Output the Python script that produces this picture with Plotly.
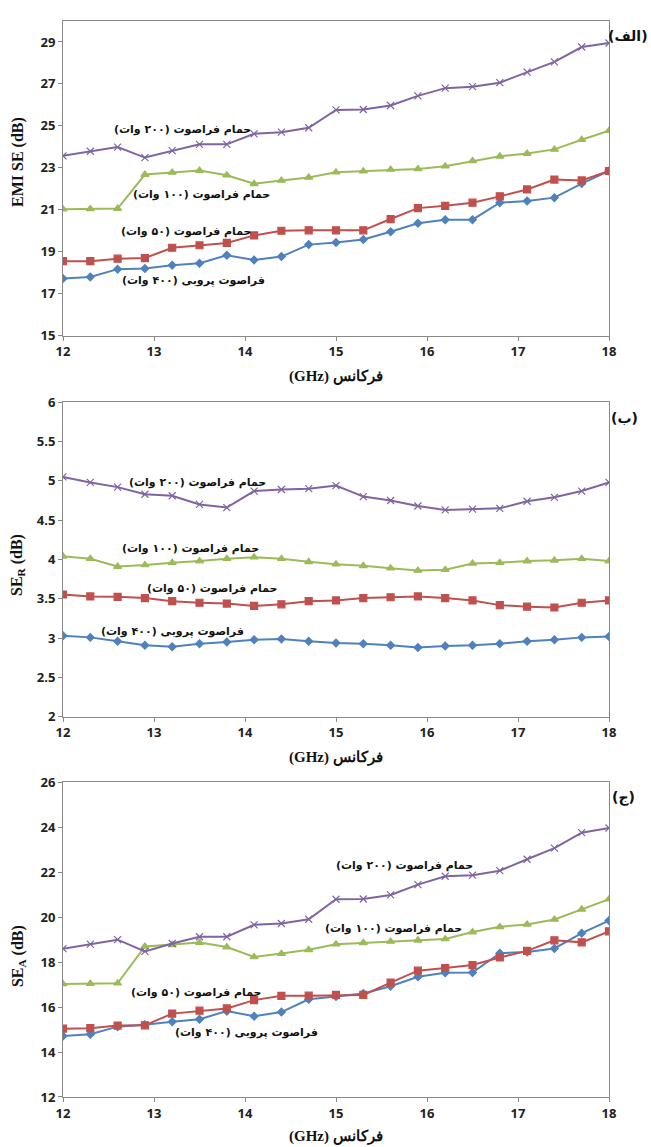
import plotly.graph_objects as go

freq = [12.0, 12.3, 12.6, 12.9, 13.2, 13.5, 13.8, 14.1, 14.4, 14.7, 15.0,
        15.3, 15.6, 15.9, 16.2, 16.5, 16.8, 17.1, 17.4, 17.7, 18.0]

# Panel (الف): EMI SE
emi_probe400 = [17.72, 17.80, 18.17, 18.20, 18.36, 18.45, 18.83, 18.61, 18.77, 19.34, 19.44,
                19.58, 19.95, 20.36, 20.52, 20.53, 21.34, 21.42, 21.58, 22.25, 22.85]
emi_bath50 = [18.55, 18.55, 18.67, 18.70, 19.19, 19.31, 19.42, 19.78, 20.00, 20.02, 20.02,
              20.02, 20.56, 21.08, 21.19, 21.34, 21.64, 21.97, 22.44, 22.40, 22.85]
emi_bath100 = [21.03, 21.04, 21.06, 22.68, 22.78, 22.87, 22.65, 22.24, 22.40, 22.54, 22.79,
               22.84, 22.92, 22.95, 23.08, 23.33, 23.55, 23.68, 23.88, 24.34, 24.77]
emi_bath200 = [23.57, 23.79, 23.99, 23.49, 23.82, 24.12, 24.12, 24.62, 24.70, 24.91, 25.76,
               25.78, 25.97, 26.43, 26.80, 26.87, 27.06, 27.56, 28.05, 28.76, 28.95]

# Panel (ب): SE_R
ser_probe400 = [3.03, 3.01, 2.96, 2.91, 2.89, 2.93, 2.95, 2.98, 2.99, 2.96, 2.94,
                2.93, 2.91, 2.88, 2.90, 2.91, 2.93, 2.96, 2.98, 3.01, 3.02]
ser_bath50 = [3.555, 3.53, 3.525, 3.51, 3.47, 3.45, 3.44, 3.41, 3.43, 3.47, 3.48,
              3.51, 3.52, 3.53, 3.51, 3.48, 3.42, 3.40, 3.39, 3.45, 3.48]
ser_bath100 = [4.04, 4.01, 3.91, 3.93, 3.96, 3.98, 4.01, 4.03, 4.01, 3.97, 3.94,
               3.92, 3.89, 3.86, 3.87, 3.95, 3.96, 3.98, 3.99, 4.01, 3.98]
ser_bath200 = [5.05, 4.98, 4.92, 4.83, 4.81, 4.70, 4.66, 4.87, 4.89, 4.90, 4.94,
               4.80, 4.75, 4.68, 4.63, 4.64, 4.65, 4.74, 4.79, 4.87, 4.98]

# Panel (ج): SE_A
sea_probe400 = [14.71, 14.79, 15.13, 15.21, 15.35, 15.46, 15.82, 15.59, 15.78, 16.35, 16.47,
                16.60, 16.93, 17.35, 17.53, 17.54, 18.40, 18.45, 18.61, 19.29, 19.85]
sea_bath50 = [15.04, 15.06, 15.18, 15.19, 15.71, 15.84, 15.94, 16.31, 16.50, 16.51, 16.54,
              16.54, 17.09, 17.62, 17.74, 17.87, 18.21, 18.50, 18.97, 18.88, 19.37]
sea_bath100 = [17.03, 17.04, 17.06, 18.70, 18.77, 18.87, 18.67, 18.23, 18.38, 18.55, 18.80,
               18.86, 18.92, 18.97, 19.03, 19.34, 19.57, 19.68, 19.90, 20.35, 20.80]
sea_bath200 = [18.60, 18.80, 19.00, 18.48, 18.83, 19.13, 19.13, 19.66, 19.72, 19.91, 20.80,
               20.81, 20.99, 21.45, 21.82, 21.87, 22.07, 22.58, 23.07, 23.76, 23.97]

x_ticks = [12, 13, 14, 15, 16, 17, 18]
y1_ticks = [15, 17, 19, 21, 23, 25, 27, 29]
y2_ticks = [2, 2.5, 3, 3.5, 4, 4.5, 5, 5.5, 6]
y2_ticktext = ["2", "2.5", "3", "3.5", "4", "4.5", "5", "5.5", "6"]
y3_ticks = [12, 14, 16, 18, 20, 22, 24, 26]

series_names = ["فراصوت پروبی (۴۰۰ وات)", "حمام فراصوت (۵۰ وات)",
                "حمام فراصوت (۱۰۰ وات)", "حمام فراصوت (۲۰۰ وات)"]
panel_labels = ["(الف)", "(ب)", "(ج)"]
y_titles = ["EMI SE (dB)", "SE<sub>R</sub> (dB)", "SE<sub>A</sub> (dB)"]
x_title = "فرکانس (GHz)"

colors = ["#4F81BD", "#C0504D", "#9BBB59", "#8064A2"]
symbols = ["diamond", "square", "triangle-up", "x-thin"]
msizes = [6, 7, 7, 7]

W, H = 651, 1147
L, R, T, B = 63, 609, 13, 1097


def rtl(s):
    return "\u202b" + s + "\u202c"


def px(x, y):
    return (x - L) / (R - L), (B - y) / (B - T)


panels = [
    dict(data=[emi_probe400, emi_bath50, emi_bath100, emi_bath200], top=13, bot=330,
         yr=[15, 30], yt=y1_ticks, ytt=[str(v) for v in y1_ticks],
         labels=[(193, 274), (186, 225), (201, 188), (182, 122)],
         plabel=(628, 28), ytitle=(18, 155), xtitle_y=371),
    dict(data=[ser_probe400, ser_bath50, ser_bath100, ser_bath200], top=397, bot=714,
         yr=[2, 6], yt=y2_ticks, ytt=y2_ticktext,
         labels=[(172, 628), (212, 585), (190, 544), (197, 478)],
         plabel=(624, 413), ytitle=(18, 561), xtitle_y=755),
    dict(data=[sea_probe400, sea_bath50, sea_bath100, sea_bath200], top=780, bot=1097,
         yr=[12, 26], yt=y3_ticks, ytt=[str(v) for v in y3_ticks],
         labels=[(246, 1032), (196, 992), (393, 927), (404, 864)],
         plabel=(623, 795), ytitle=(18, 955), xtitle_y=1137),
]

fig = go.Figure()
annotations = []
tickfont = dict(family="Open Sans", size=13, color="#222222", weight="bold")
labfont = dict(family="DejaVu Sans", size=11, color="#111111", weight="bold")

for i, p in enumerate(panels):
    n = "" if i == 0 else str(i + 1)
    for k in range(4):
        fig.add_trace(go.Scatter(
            x=freq, y=p["data"][k], mode="lines+markers",
            line=dict(color=colors[k], width=2),
            marker=dict(symbol=symbols[k], size=msizes[k], color=colors[k],
                        line=dict(color=colors[k], width=1.2)),
            xaxis="x" + n, yaxis="y" + n, showlegend=False, name=series_names[k]))
    d0 = (B - p["bot"]) / (B - T)
    d1 = (B - p["top"]) / (B - T)
    fig.update_layout(**{
        "xaxis" + n: dict(domain=[0, 1], range=[12, 18], tickvals=x_ticks,
                          ticktext=[str(v) for v in x_ticks],
                          anchor="y" + n, showline=True, linecolor="#898989",
                          linewidth=1, mirror=True, ticks="outside", ticklen=4,
                          tickcolor="#898989", showgrid=False, zeroline=False,
                          tickfont=tickfont),
        "yaxis" + n: dict(domain=[d0, d1], range=p["yr"], tickvals=p["yt"],
                          ticktext=p["ytt"], anchor="x" + n, showline=True,
                          linecolor="#898989", linewidth=1, mirror=True,
                          ticks="outside", ticklen=4, tickcolor="#898989",
                          showgrid=False, zeroline=False, tickfont=tickfont),
    })
    for k, (lx, ly) in enumerate(p["labels"]):
        ax_, ay_ = px(lx, ly)
        annotations.append(dict(x=ax_, y=ay_, xref="paper", yref="paper",
                                text=rtl(series_names[k]), showarrow=False,
                                font=labfont, xanchor="center", yanchor="middle"))
    ax_, ay_ = px(*p["plabel"])
    annotations.append(dict(x=ax_, y=ay_, xref="paper", yref="paper",
                            text=rtl(panel_labels[i]), showarrow=False,
                            font=dict(family="DejaVu Sans", size=14, color="#111111",
                                      weight="bold"),
                            xanchor="center", yanchor="middle"))
    ax_, ay_ = px(*p["ytitle"])
    annotations.append(dict(x=ax_, y=ay_, xref="paper", yref="paper",
                            text=y_titles[i], showarrow=False,
                            textangle=-90,
                            font=dict(family="Liberation Serif", size=16, color="#111111",
                                      weight="bold"),
                            xanchor="center", yanchor="middle"))
    ax_, ay_ = px(336, p["xtitle_y"])
    annotations.append(dict(x=ax_, y=ay_, xref="paper", yref="paper",
                            text=rtl(x_title), showarrow=False,
                            font=dict(family="Liberation Serif", size=15, color="#111111",
                                      weight="bold"),
                            xanchor="center", yanchor="middle"))

fig.update_layout(width=W, height=H, margin=dict(l=L, r=W - R, t=T, b=H - B),
                  paper_bgcolor="white", plot_bgcolor="white",
                  annotations=annotations)

fig.write_html("out.html")
